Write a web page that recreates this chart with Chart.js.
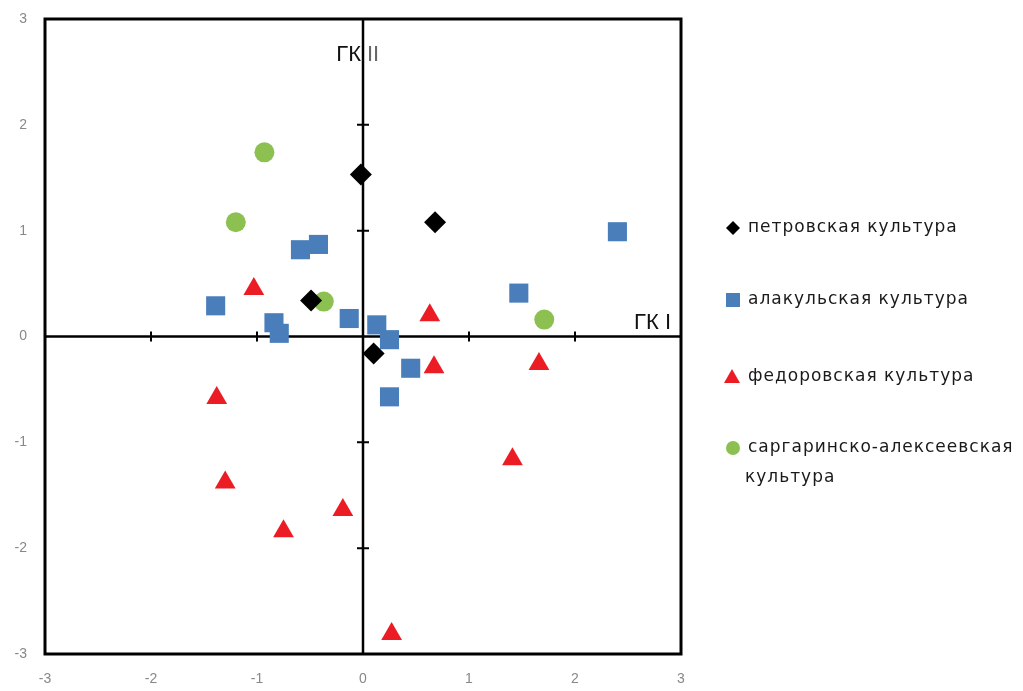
<!DOCTYPE html>
<html>
<head>
<meta charset="utf-8">
<script src="https://cdn.jsdelivr.net/npm/chart.js@4/dist/chart.umd.min.js"></script>
<style>
  html, body { margin: 0; padding: 0; background: #fff; }
  #wrap { width: 1023px; height: 691px; }
</style>
</head>
<body>
<div id="wrap"><canvas id="pcaChart" width="1023" height="691"></canvas></div>
<script>
// series names
const seriesNames = [
  "петровская культура",
  "алакульская культура",
  "федоровская культура",
  "саргаринско-алексеевская культура",
];

// ГК I / ГК II scores
const petrovX = [-0.02, 0.68, -0.49, 0.10];
const petrovY = [1.53, 1.08, 0.34, -0.16];

const alakulX = [-1.39, -0.59, -0.42, -0.84, -0.79, -0.13, 0.13, 0.25, 2.40, 1.47, 0.45, 0.25];
const alakulY = [0.29, 0.82, 0.87, 0.13, 0.03, 0.17, 0.11, -0.03, 0.99, 0.41, -0.30, -0.57];

const fedorX = [-1.03, 0.63, -1.38, -1.30, -0.75, -0.19, 0.27, 0.67, 1.66, 1.41];
const fedorY = [0.45, 0.20, -0.58, -1.38, -1.84, -1.64, -2.81, -0.29, -0.26, -1.16];

const sargarX = [-0.93, -1.20, -0.37, 1.71];
const sargarY = [1.74, 1.08, 0.33, 0.16];

const tickValues = [-3, -2, -1, 0, 1, 2, 3];

function pts(xs, ys) {
  return xs.map((x, i) => ({ x: x, y: ys[i] }));
}

// crosshair through 0,0 with small marks + black frame
const framePlugin = {
  id: "frame",
  beforeDatasetsDraw(chart) {
    const { ctx, chartArea, scales } = chart;
    const x0 = scales.x.getPixelForValue(0);
    const y0 = scales.y.getPixelForValue(0);
    ctx.save();
    ctx.strokeStyle = "#000";
    ctx.lineWidth = 2.5;
    ctx.beginPath();
    ctx.moveTo(x0, chartArea.top);
    ctx.lineTo(x0, chartArea.bottom);
    ctx.moveTo(chartArea.left, y0);
    ctx.lineTo(chartArea.right, y0);
    ctx.stroke();

    ctx.lineWidth = 2;
    tickValues.forEach((v) => {
      if (v === 0 || Math.abs(v) === 3) return;
      const px = scales.x.getPixelForValue(v);
      const py = scales.y.getPixelForValue(v);
      ctx.beginPath();
      ctx.moveTo(px, y0 - 5);
      ctx.lineTo(px, y0 + 5);
      ctx.moveTo(x0 - 6, py);
      ctx.lineTo(x0 + 6, py);
      ctx.stroke();
    });

    ctx.lineWidth = 3;
    ctx.strokeRect(
      chartArea.left,
      chartArea.top,
      chartArea.right - chartArea.left,
      chartArea.bottom - chartArea.top
    );
    ctx.restore();
  },
};

// axis captions and the legend on the right
const labelsPlugin = {
  id: "labels",
  afterDraw(chart) {
    const { ctx, scales } = chart;
    const x0 = scales.x.getPixelForValue(0);
    const y0 = scales.y.getPixelForValue(0);
    ctx.save();
    ctx.fillStyle = "#111";
    ctx.font = "22px 'Liberation Sans', sans-serif";
    ctx.textBaseline = "middle";
    ctx.textAlign = "right";
    ctx.fillText("ГК", x0 - 2, 55);
    ctx.textAlign = "left";
    ctx.fillStyle = "#666";
    ctx.fillText("II", x0 + 4, 55);
    ctx.fillStyle = "#111";
    ctx.textAlign = "right";
    ctx.fillText("ГК I", chart.chartArea.right - 10, y0 - 14);

    // legend
    const rowsY = [228, 300, 377, 448];
    const markX = 733;
    ctx.font = "17px 'DejaVu Sans', sans-serif";
    ctx.letterSpacing = "1px";
    ctx.textAlign = "left";
    chart.data.datasets.forEach((ds, i) => {
      const y = rowsY[i];
      ctx.fillStyle = ds.backgroundColor;
      ctx.beginPath();
      if (ds.pointStyle === "rectRot") {
        ctx.moveTo(markX, y - 7);
        ctx.lineTo(markX + 7, y);
        ctx.lineTo(markX, y + 7);
        ctx.lineTo(markX - 7, y);
      } else if (ds.pointStyle === "rect") {
        ctx.rect(markX - 7, y - 7, 14, 14);
      } else if (ds.pointStyle === "triangle") {
        ctx.moveTo(markX - 1, y - 8);
        ctx.lineTo(markX + 7, y + 6);
        ctx.lineTo(markX - 9, y + 6);
      } else {
        ctx.arc(markX, y, 7, 0, Math.PI * 2);
      }
      ctx.closePath();
      ctx.fill();

      ctx.fillStyle = "#1a1a1a";
      if (i === 3) {
        ctx.fillText("саргаринско-алексеевская", 748, y);
        ctx.fillText("культура", 745, y + 30);
      } else {
        ctx.fillText(seriesNames[i], 748, y);
      }
    });
    ctx.restore();
  },
};

const tickFont = { family: "'Liberation Sans', sans-serif", size: 14 };

new Chart(document.getElementById("pcaChart"), {
  type: "scatter",
  data: {
    datasets: [
      {
        label: seriesNames[0],
        data: pts(petrovX, petrovY),
        pointStyle: "rectRot",
        pointRadius: 11,
        backgroundColor: "#000000",
        borderColor: "#000000",
        borderWidth: 0,
      },
      {
        label: seriesNames[1],
        data: pts(alakulX, alakulY),
        pointStyle: "rect",
        pointRadius: 13.5,
        backgroundColor: "#4a7ebb",
        borderColor: "#4a7ebb",
        borderWidth: 0,
      },
      {
        label: seriesNames[2],
        data: pts(fedorX, fedorY),
        pointStyle: "triangle",
        pointRadius: 12,
        backgroundColor: "#ec1c24",
        borderColor: "#ec1c24",
        borderWidth: 0,
      },
      {
        label: seriesNames[3],
        data: pts(sargarX, sargarY),
        pointStyle: "circle",
        pointRadius: 10,
        backgroundColor: "#8cc152",
        borderColor: "#8cc152",
        borderWidth: 0,
      },
    ],
  },
  options: {
    responsive: false,
    animation: false,
    devicePixelRatio: 1,
    layout: { padding: { top: 19, right: 342, left: 0, bottom: 0 } },
    plugins: {
      legend: { display: false },
      tooltip: { enabled: false },
    },
    scales: {
      x: {
        type: "linear",
        min: -3,
        max: 3,
        afterFit: (scale) => {
          scale.height = 37;
          scale.paddingLeft = 0;
          scale.paddingRight = 0;
        },
        grid: { display: false, drawTicks: false },
        border: { display: false },
        ticks: { stepSize: 1, color: "#888888", font: tickFont, padding: 17 },
      },
      y: {
        type: "linear",
        min: -3,
        max: 3,
        afterFit: (scale) => {
          scale.width = 45;
          scale.paddingTop = 0;
          scale.paddingBottom = 0;
        },
        grid: { display: false, drawTicks: false },
        border: { display: false },
        ticks: { stepSize: 1, color: "#888888", font: tickFont, padding: 18 },
      },
    },
  },
  plugins: [framePlugin, labelsPlugin],
});
</script>
</body>
</html>
